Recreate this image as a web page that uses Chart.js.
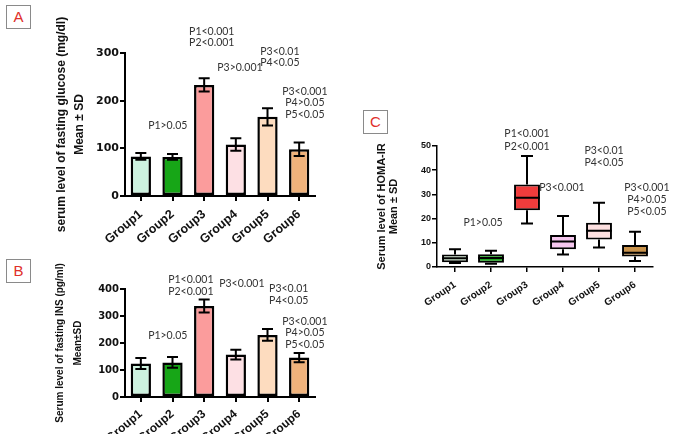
<!DOCTYPE html>
<html>
<head>
<meta charset="utf-8">
<script src="https://cdn.jsdelivr.net/npm/chart.js@4.4.1/dist/chart.umd.min.js"></script>
<style>
  html, body { margin:0; padding:0; background:#fff; width:677px; height:434px; overflow:hidden; }
  canvas { position:absolute; }
  .tag { position:absolute; width:23px; height:22px; border:1px solid #8a8a8a; background:#fff;
         color:#e0302a; font:15px "Liberation Sans", Arial, sans-serif; text-align:center; line-height:22px; }
</style>
</head>
<body>
<div class="tag" style="left:6px;top:5px;">A</div>
<div class="tag" style="left:6px;top:259px;">B</div>
<div class="tag" style="left:363px;top:110px;">C</div>
<canvas id="cA" width="340" height="250" style="left:0;top:0;"></canvas>
<canvas id="cB" width="340" height="184" style="left:0;top:250px;"></canvas>
<canvas id="cC" width="337" height="260" style="left:340px;top:90px;"></canvas>
<script>
// ---------- DATA ----------
const groups = ['Group1','Group2','Group3','Group4','Group5','Group6'];

// Panel A: fasting glucose (mg/dl), mean and SD
const glucoseMean = [83, 82, 233, 108, 166, 98];
const glucoseSD   = [7, 6, 14, 13, 18, 14];
const glucoseTicks = [0, 100, 200, 300];

// Panel B: fasting insulin (pg/ml), mean and SD
const insulinMean = [124, 128, 337, 157, 230, 146];
const insulinSD   = [20, 20, 24, 18, 22, 17];
const insulinTicks = [0, 100, 200, 300, 400];

// Panel C: HOMA-IR box plot
const homaMin    = [1.7, 1.3, 18.0, 5.2, 8.1, 2.5];
const homaQ1     = [2.0, 1.8, 23.5, 7.3, 11.4, 4.3];
const homaMedian = [3.6, 3.7, 28.6, 10.5, 15.0, 5.9];
const homaQ3     = [5.2, 5.3, 34.1, 13.2, 18.3, 9.1];
const homaMax    = [7.3, 6.7, 45.9, 21.1, 26.6, 14.6];
const homaTicks  = [0, 10, 20, 30, 40, 50];

// Annotations: text lines, anchor category (fractional index), anchor values
const annotTextA = [['P1>0.05'], ['P1<0.001','P2<0.001'], ['P3>0.001'], ['P3<0.01','P4<0.05'], ['P3<0.001','P4>0.05','P5<0.05']];
const annotAtA   = [0.85, 2.24, 3.13, 4.39, 5.18];
const annotValA  = [[147], [344, 321], [270], [302, 279], [220, 195, 170]];

const annotTextB = [['P1>0.05'], ['P1<0.001','P2<0.001'], ['P3<0.001'], ['P3<0.01','P4<0.05'], ['P3<0.001','P4>0.05','P5<0.05']];
const annotAtB   = [0.85, 1.58, 3.19, 4.67, 5.18];
const annotValB  = [[226], [433, 389], [419], [400, 356], [281, 237, 193]];

const annotTextC = [['P1>0.05'], ['P1<0.001','P2<0.001'], ['P3<0.001'], ['P3<0.01','P4<0.05'], ['P3<0.001','P4>0.05','P5<0.05']];
const annotAtC   = [0.78, 2.0, 2.97, 4.14, 5.33];
const annotValC  = [[18.2], [55, 49.6], [32.6], [48, 43], [32.6, 27.7, 22.7]];

// ---------- STYLE ----------
const barColors = ['#cdf2df', '#17a617', '#fb9c9c', '#fde0e4', '#fddcbf', '#efb27b'];
const boxColors = ['#d3ecd3', '#1fa51f', '#f03c3c', '#f5c6ee', '#fde0e0', '#c8924b'];
const NARROW = '"Liberation Sans Narrow", "Liberation Sans", Arial, sans-serif';
const SANS = '"Liberation Sans", Arial, sans-serif';
const DEJAVU = '"DejaVu Sans", sans-serif';

// ---------- PLUGINS ----------
function errorBars(sd) {
  return { id: 'errorBars', afterDatasetsDraw(chart) {
    const ctx = chart.ctx, meta = chart.getDatasetMeta(0), y = chart.scales.y;
    const vals = chart.data.datasets[0].data;
    ctx.save(); ctx.strokeStyle = '#000'; ctx.lineWidth = 2;
    meta.data.forEach((bar, i) => {
      const yt = y.getPixelForValue(vals[i] + sd[i]), yb = y.getPixelForValue(vals[i] - sd[i]);
      ctx.beginPath();
      ctx.moveTo(bar.x, yt); ctx.lineTo(bar.x, yb);
      ctx.moveTo(bar.x - 5.5, yt); ctx.lineTo(bar.x + 5.5, yt);
      ctx.moveTo(bar.x - 5.5, yb); ctx.lineTo(bar.x + 5.5, yb);
      ctx.stroke();
    });
    ctx.restore();
  }};
}
function whiskers() {
  return { id: 'whiskers', afterDatasetsDraw(chart) {
    const ctx = chart.ctx, meta = chart.getDatasetMeta(0), y = chart.scales.y;
    ctx.save(); ctx.strokeStyle = '#000'; ctx.lineWidth = 2;
    meta.data.forEach((bar, i) => {
      const h = bar.width / 2;
      ctx.beginPath();
      ctx.moveTo(bar.x - h, y.getPixelForValue(homaMedian[i])); ctx.lineTo(bar.x + h, y.getPixelForValue(homaMedian[i]));
      ctx.moveTo(bar.x, y.getPixelForValue(homaQ3[i])); ctx.lineTo(bar.x, y.getPixelForValue(homaMax[i]));
      ctx.moveTo(bar.x - 6, y.getPixelForValue(homaMax[i])); ctx.lineTo(bar.x + 6, y.getPixelForValue(homaMax[i]));
      ctx.moveTo(bar.x, y.getPixelForValue(homaQ1[i])); ctx.lineTo(bar.x, y.getPixelForValue(homaMin[i]));
      ctx.moveTo(bar.x - 6, y.getPixelForValue(homaMin[i])); ctx.lineTo(bar.x + 6, y.getPixelForValue(homaMin[i]));
      ctx.stroke();
    });
    ctx.restore();
  }};
}
function annotations(texts, at, vals) {
  return { id: 'annot', afterDraw(chart) {
    const ctx = chart.ctx, x = chart.scales.x, y = chart.scales.y;
    ctx.save();
    ctx.font = '10.5px Lato, "Open Sans", sans-serif';
    ctx.fillStyle = '#333'; ctx.textAlign = 'center'; ctx.textBaseline = 'middle';
    texts.forEach((lines, k) => {
      lines.forEach((t, j) => ctx.fillText(t, x.getPixelForValue(at[k]), y.getPixelForValue(vals[k][j])));
    });
    ctx.restore();
  }};
}

function xScale(fontSize, rot, lw, h, pad) {
  return {
    grid: { display: true, drawOnChartArea: false, offset: false, tickLength: 5, color: '#000', lineWidth: lw },
    border: { display: true, color: '#000', width: lw },
    ticks: { autoSkip: false, minRotation: rot, maxRotation: rot, padding: pad, color: '#111',
             font: { family: SANS, weight: 'bold', size: fontSize } },
    afterFit(s) { s.height = h; }
  };
}
function yScale(ticksArr, tickFont, titleLines, titleFont, lineH, padTop, w, lw) {
  return {
    min: ticksArr[0], max: ticksArr[ticksArr.length - 1],
    afterBuildTicks(s) { s.ticks = ticksArr.map(v => ({ value: v })); },
    grid: { display: true, drawOnChartArea: false, tickLength: 5, color: '#000', lineWidth: lw },
    border: { display: true, color: '#000', width: lw },
    ticks: { padding: 1, color: '#111', font: tickFont },
    title: { display: true, text: titleLines, color: '#111',
             font: Object.assign({}, titleFont, { lineHeight: lineH / titleFont.size }),
             padding: { top: padTop, bottom: 0 } },
    afterFit(s) { s.width = w; }
  };
}
const common = { responsive: false, animation: false, devicePixelRatio: 1 };

// ---------- PANEL A ----------
new Chart(document.getElementById('cA'), {
  type: 'bar',
  data: { labels: groups, datasets: [{ data: glucoseMean, backgroundColor: barColors, borderColor: '#000',
          borderWidth: 2.5, borderSkipped: false, barPercentage: 0.64, categoryPercentage: 1 }] },
  options: Object.assign({}, common, {
    layout: { padding: { top: 53, right: 25, left: 0, bottom: 0 } },
    plugins: { legend: { display: false }, tooltip: { enabled: false } },
    scales: {
      x: xScale(12.5, 40, 2, 54, 6),
      y: yScale(glucoseTicks, { family: DEJAVU, weight: 'bold', size: 11 },
                ['serum level of fasting glucose (mg/dl)', 'Mean ± SD'],
                { family: NARROW, weight: 'bold', size: 12 }, 18, 53, 125, 2)
    }
  }),
  plugins: [errorBars(glucoseSD), annotations(annotTextA, annotAtA, annotValA)]
});

// ---------- PANEL B ----------
new Chart(document.getElementById('cB'), {
  type: 'bar',
  data: { labels: groups, datasets: [{ data: insulinMean, backgroundColor: barColors, borderColor: '#000',
          borderWidth: 2.5, borderSkipped: false, barPercentage: 0.64, categoryPercentage: 1 }] },
  options: Object.assign({}, common, {
    layout: { padding: { top: 39, right: 25, left: 0, bottom: 0 } },
    plugins: { legend: { display: false }, tooltip: { enabled: false } },
    scales: {
      x: xScale(12, 40, 2, 37, 5),
      y: yScale(insulinTicks, { family: DEJAVU, weight: 'bold', size: 10 },
                ['Serum level of fasting INS (pg/ml)', 'Mean±SD'],
                { family: NARROW, weight: 'bold', size: 10 }, 18, 51, 125, 2)
    }
  }),
  plugins: [errorBars(insulinSD), annotations(annotTextB, annotAtB, annotValB)]
});

// ---------- PANEL C ----------
new Chart(document.getElementById('cC'), {
  type: 'bar',
  data: { labels: groups, datasets: [{ data: homaQ1.map((q, i) => [q, homaQ3[i]]), backgroundColor: boxColors,
          borderColor: '#000', borderWidth: 2, borderSkipped: false, barPercentage: 0.72, categoryPercentage: 1 }] },
  options: Object.assign({}, common, {
    layout: { padding: { top: 56, right: 24, left: 0, bottom: 0 } },
    plugins: { legend: { display: false }, tooltip: { enabled: false } },
    scales: {
      x: xScale(10, 34, 1.5, 83, 7),
      y: yScale(homaTicks, { family: SANS, weight: 'bold', size: 9 },
                ['Serum level of HOMA-IR', 'Mean ± SD'],
                { family: NARROW, weight: 'bold', size: 11 }, 12, 36, 97, 1.5)
    }
  }),
  plugins: [whiskers(), annotations(annotTextC, annotAtC, annotValC)]
});
</script>
</body>
</html>
